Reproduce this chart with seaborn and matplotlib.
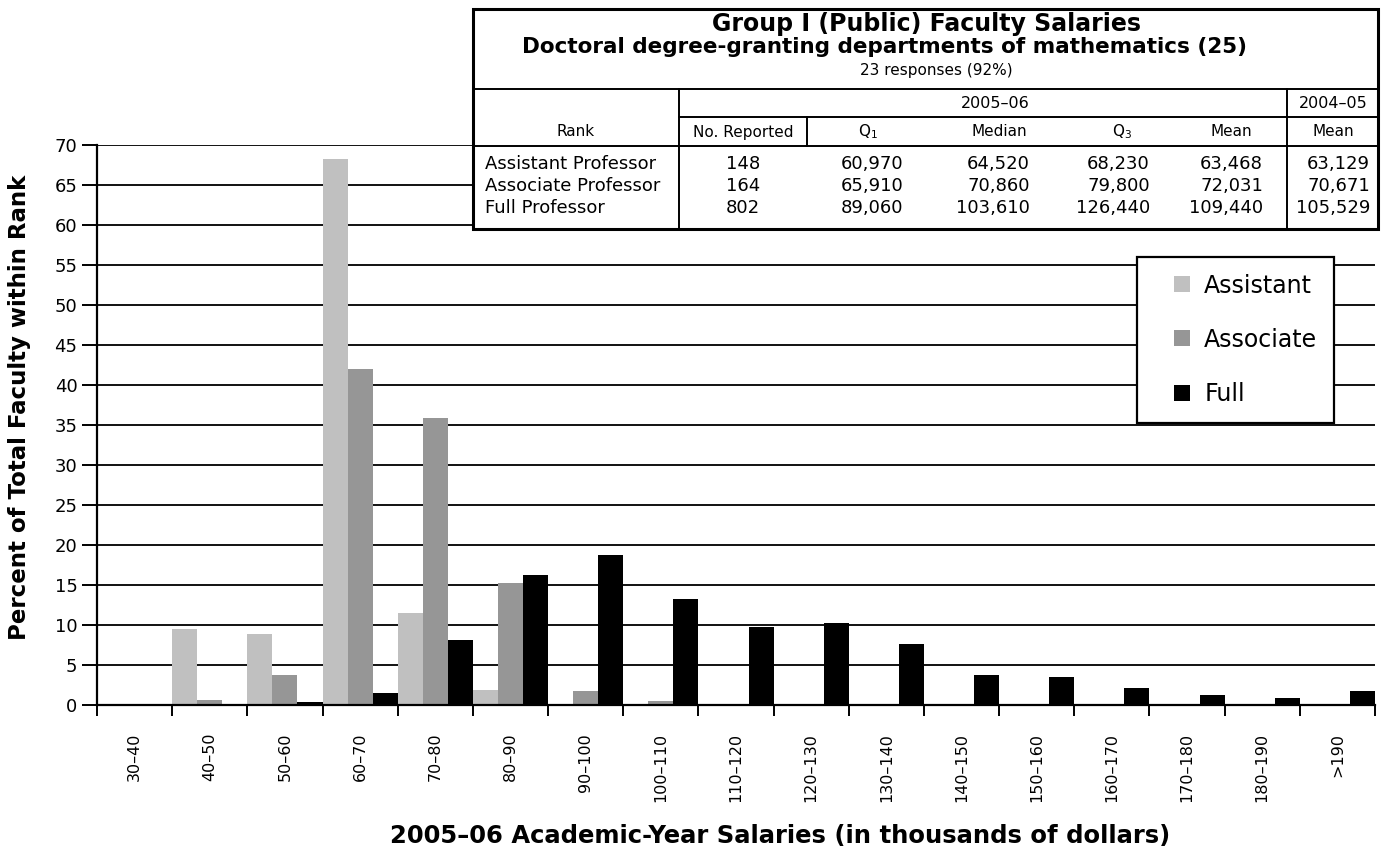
import pandas as pd
import matplotlib
matplotlib.use('Agg')
import matplotlib.pyplot as plt
from matplotlib.patches import Rectangle
from matplotlib.lines import Line2D
from matplotlib.ticker import FixedLocator, NullFormatter
import seaborn as sns

# salary ranges (thousands of dollars)
ranges = ['30–40', '40–50', '50–60', '60–70', '70–80', '80–90', '90–100',
          '100–110', '110–120', '120–130', '130–140', '140–150', '150–160',
          '160–170', '170–180', '180–190', '>190']

# percent of faculty within rank
assistant = [0, 9.5, 8.9, 68.3, 11.5, 1.9, 0, 0, 0, 0, 0, 0, 0, 0, 0, 0, 0]
associate = [0, 0.6, 3.7, 42.0, 35.9, 15.2, 1.8, 0.5, 0, 0, 0, 0, 0, 0, 0, 0, 0]
full = [0, 0, 0.4, 1.5, 8.1, 16.3, 18.8, 13.2, 9.8, 10.2, 7.6, 3.7, 3.5, 2.1, 1.3, 0.9, 1.8]

rank_names = ['Assistant', 'Associate', 'Full']
rank_colors = ['#c0c0c0', '#969696', '#000000']

# summary table
table_ranks = ['Assistant Professor', 'Associate Professor', 'Full Professor']
no_reported = [148, 164, 802]
q1 = [60970, 65910, 89060]
median = [64520, 70860, 103610]
q3 = [68230, 79800, 126440]
mean_0506 = [63468, 72031, 109440]
mean_0405 = [63129, 70671, 105529]

df = pd.DataFrame({
    'range': ranges * 3,
    'pct': assistant + associate + full,
    'rank': [r for r in rank_names for _ in ranges],
})

sns.set_style('white')
plt.rcParams['font.family'] = ['DejaVu Sans']
plt.rcParams['text.color'] = 'black'
plt.rcParams['axes.labelcolor'] = 'black'
plt.rcParams['xtick.color'] = 'black'
plt.rcParams['ytick.color'] = 'black'

W, H = 1383, 858
fig = plt.figure(figsize=(W / 100, H / 100), dpi=100)
ax = fig.add_axes([97 / W, 1 - 705 / H, (1375 - 97) / W, 560 / H])

sns.barplot(data=df, x='range', y='pct', hue='rank', order=ranges,
            hue_order=rank_names, palette=rank_colors, saturation=1,
            width=1.0, gap=0, errorbar=None, linewidth=0, legend=False, ax=ax)

ax.set_xlim(-0.5, len(ranges) - 0.5)
ax.set_ylim(0, 70)
ax.set_yticks(range(0, 71, 5))
ax.set_axisbelow(True)
ax.yaxis.grid(True, color='#111111', linewidth=1.4)
ax.xaxis.grid(False)

# ticks at category boundaries, labels at centres
ax.xaxis.set_major_locator(FixedLocator([i - 0.5 for i in range(len(ranges) + 1)]))
ax.xaxis.set_major_formatter(NullFormatter())
ax.xaxis.set_minor_locator(FixedLocator(list(range(len(ranges)))))
ax.set_xticklabels(ranges, minor=True, rotation=90, fontsize=11.5)
ax.tick_params(axis='x', which='major', bottom=True, length=8, width=1.4,
               color='black', direction='out')
ax.tick_params(axis='x', which='minor', bottom=True, length=0, pad=20)
ax.tick_params(axis='y', left=True, length=11, width=1.4, color='black',
               direction='out', labelsize=13, pad=3)

for side in ['top', 'right']:
    ax.spines[side].set_visible(False)
for side in ['left', 'bottom']:
    ax.spines[side].set_color('black')
    ax.spines[side].set_linewidth(1.6)

ax.set_xlabel('2005–06 Academic-Year Salaries (in thousands of dollars)',
              fontsize=17.5, fontweight='bold')
ax.xaxis.set_label_coords((780 - 97) / 1278, (705 - 824) / 560)
ax.set_ylabel('Percent of Total Faculty within Rank', fontsize=16.5, fontweight='bold')
ax.yaxis.set_label_coords((31 - 97) / 1278, (705 - 407) / 560)

handles = [Line2D([], [], linestyle='none', marker='s', markersize=11.5,
                  markerfacecolor=c, markeredgewidth=0) for c in rank_colors]
leg = ax.legend(handles, rank_names, loc='upper left',
                bbox_to_anchor=(1137 / W, 1 - 257 / H), bbox_transform=fig.transFigure,
                fontsize=17, frameon=True, fancybox=False, framealpha=1,
                edgecolor='black', handlelength=2.4, handletextpad=-0.25,
                labelspacing=1.28, borderpad=0.7, borderaxespad=0)
leg.get_frame().set_linewidth(1.6)

# table drawn on an overlay in pixel coordinates
ov = fig.add_axes([0, 0, 1, 1])
ov.set_xlim(0, W)
ov.set_ylim(H, 0)
ov.axis('off')
ov.add_patch(Rectangle((473, 9), 905, 220, facecolor='white', edgecolor='black', lw=2.2))
lk = dict(color='black', lw=1.4)
ov.plot([473, 1378], [89, 89], **lk)
ov.plot([679, 1378], [117, 117], **lk)
ov.plot([473, 1378], [146, 146], **lk)
ov.plot([679, 679], [89, 229], **lk)
ov.plot([1287, 1287], [89, 229], **lk)
ov.plot([807, 807], [117, 146], **lk)

ov.text(927, 24, 'Group I (Public) Faculty Salaries', ha='center', va='center',
        fontsize=17, fontweight='bold')
ov.text(885, 47, 'Doctoral degree-granting departments of mathematics (25)',
        ha='center', va='center', fontsize=15.5, fontweight='bold')
ov.text(936, 70, '23 responses (92%)', ha='center', va='center', fontsize=11)
ov.text(995, 104, '2005–06', ha='center', va='center', fontsize=11.5)
ov.text(1333, 104, '2004–05', ha='center', va='center', fontsize=11.5)

headers = ['Rank', 'No. Reported', 'Q$_1$', 'Median', 'Q$_3$', 'Mean', 'Mean']
header_x = [576, 743, 868, 999, 1122, 1231, 1333]
for hx, h in zip(header_x, headers):
    ov.text(hx, 132, h, ha='center', va='center', fontsize=11)

row_y = [164, 186, 208]
num_right = [903, 1030, 1150, 1263, 1370]
for i, y in enumerate(row_y):
    ov.text(485, y, table_ranks[i], ha='left', va='center', fontsize=13)
    ov.text(743, y, str(no_reported[i]), ha='center', va='center', fontsize=13)
    vals = [q1[i], median[i], q3[i], mean_0506[i], mean_0405[i]]
    for rx, v in zip(num_right, vals):
        ov.text(rx, y, f'{v:,}', ha='right', va='center', fontsize=13)

fig.savefig('out.png', dpi=100)
